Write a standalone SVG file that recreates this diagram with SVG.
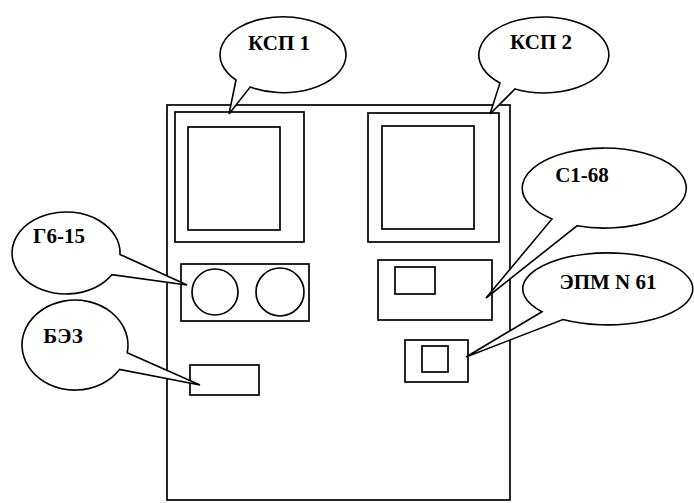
<svg xmlns="http://www.w3.org/2000/svg" width="694" height="503" viewBox="0 0 694 503">
<style>
.b{fill:none;stroke:#000;stroke-width:1.7}
.bub{fill:#fff;stroke:#000;stroke-width:1.6;stroke-linejoin:miter}
.t{font-family:"Liberation Serif","Times New Roman",serif;font-weight:bold;font-size:21px;text-anchor:middle;fill:#000}
</style>
<rect width="694" height="503" fill="#fff"/>
<g id="panel">
<rect class="b" x="167" y="105" width="343" height="395"/>
</g>
<g id="ksp1-unit">
<rect class="b" x="175" y="112" width="129" height="130"/>
<rect class="b" x="188" y="127" width="92" height="103"/>
</g>
<g id="ksp2-unit">
<rect class="b" x="368" y="113" width="131" height="129"/>
<rect class="b" x="382" y="126" width="92" height="103"/>
</g>
<g id="g615-unit">
<rect class="b" x="181" y="264" width="128" height="57"/>
<circle class="b" cx="215" cy="292" r="23"/>
<circle class="b" cx="280" cy="292" r="24"/>
</g>
<g id="c168-unit">
<rect class="b" x="378" y="260" width="114" height="60"/>
<rect class="b" x="395" y="267" width="40" height="27"/>
</g>
<g id="epm-unit">
<rect class="b" x="405" y="340" width="63" height="42"/>
<rect class="b" x="422" y="346" width="26" height="26"/>
</g>
<g id="bez-unit">
<rect class="b" x="190" y="365" width="69" height="30"/>
</g>
<g id="connectors">
<path id="c-ksp1" class="bub" d="M236,80 A63 38 0 1 1 250.1,87.1 L229,114 Z"/>
<path id="c-ksp2" class="bub" d="M500,83 A65 38 0 1 1 515,89 L490,114 Z"/>
<path id="c-g615" class="bub" d="M111.8,274.7 A54 41 0 1 1 120,254.4 L187,285 Z"/>
<path id="c-bez" class="bub" d="M119.5,369.5 A53 45 0 1 1 127.2,352.8 L200,385 Z"/>
<path id="c-c168" class="bub" d="M552,218.9 A82 40 0 1 1 577,225.8 L486,298 Z"/>
<path id="c-epm" class="bub" d="M542,311.7 A85 36 0 1 1 563,319.5 L466,357 Z"/>
</g>
<g id="labels">
<text class="t" x="279" y="50">КСП 1</text>
<text class="t" x="541" y="49">КСП 2</text>
<text class="t" x="59" y="243">Г6-15</text>
<text class="t" x="63" y="343">БЭЗ</text>
<text class="t" x="582" y="182">C1-68</text>
<text class="t" x="608" y="289">ЭПМ N 61</text>
</g>
</svg>
